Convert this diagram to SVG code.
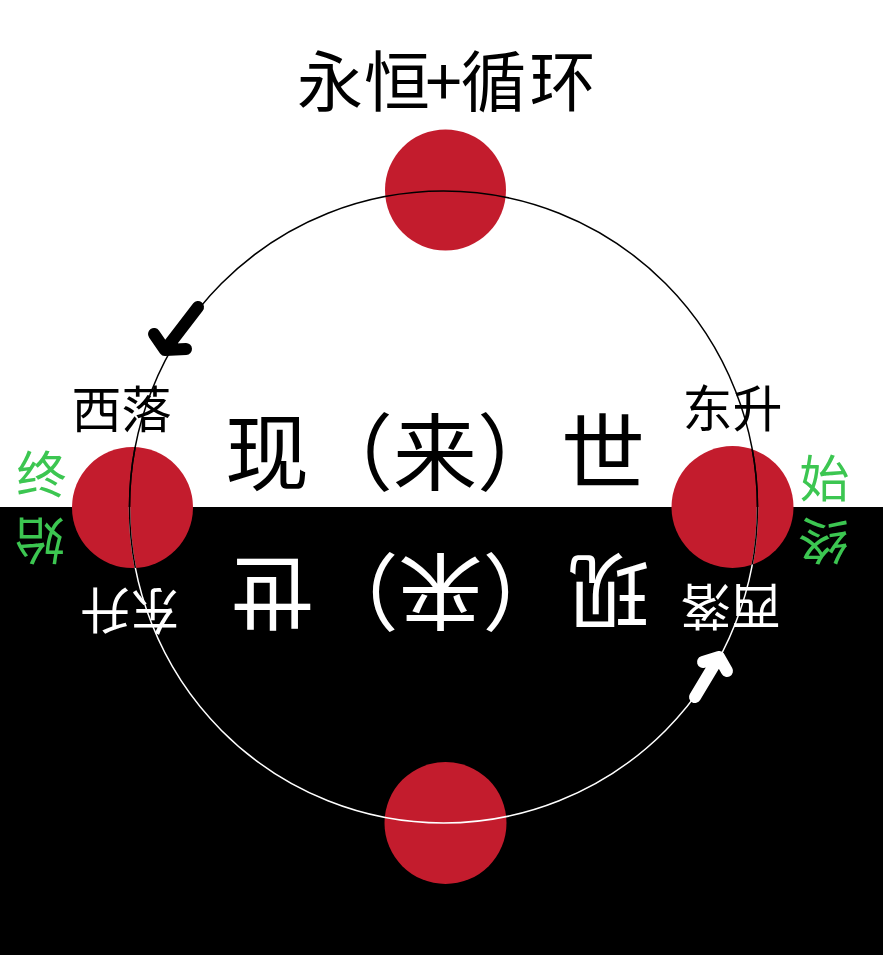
<svg xmlns="http://www.w3.org/2000/svg" width="883" height="955" viewBox="0 0 883 955">
<style>
.cjk{font-family:"Noto Sans CJK SC","Noto Sans",sans-serif;text-anchor:middle}
.sun{fill:#c31c2d}
.green{fill:#3cc651}
.arrow{fill:none;stroke-width:12;stroke-linecap:round;stroke-linejoin:round}
</style>
<defs>
<clipPath id="sideSuns"><circle cx="132.5" cy="507.5" r="60.5"/><circle cx="732.5" cy="507" r="61"/></clipPath>
</defs>
<rect x="0" y="0" width="883" height="955" fill="#ffffff"/>
<rect x="0" y="507" width="883" height="448" fill="#000000"/>
<text class="cjk" font-size="66" fill="#000"><tspan x="330 397 443.5 493.5 562.5" y="106">永恒+循环</tspan></text>
<g id="sun-top"><circle class="sun" cx="445.5" cy="190" r="60.5"/></g>
<g id="sun-bottom"><circle class="sun" cx="445.5" cy="823" r="61"/></g>
<g id="sun-left"><circle class="sun" cx="132.5" cy="507.5" r="60.5"/></g>
<g id="sun-right"><circle class="sun" cx="732.5" cy="507" r="61"/></g>
<g id="connectors">
<path d="M129.5 507 A314 316 0 0 1 757.5 507" fill="none" stroke="#000" stroke-width="1.5"/>
<path d="M757.5 507 A314 316 0 0 1 129.5 507" fill="none" stroke="#fff" stroke-width="1.5"/>
<ellipse cx="443.5" cy="507" rx="314" ry="316" fill="none" stroke="#000" stroke-width="1.5" clip-path="url(#sideSuns)"/>
<path class="arrow" stroke="#000" d="M198 307 L165 350 M154 334 L165 350 L186 349"/>
<path class="arrow" stroke="#fff" d="M695 697 L719 657 M703 662 L719 657 L727 671"/>
</g>
<g id="label-present-world">
<text class="cjk" font-size="84" fill="#000" x="435" y="484">现（来）世</text>
<text class="cjk" font-size="84" fill="#fff" x="435" y="484" transform="rotate(180 437.75 522)">现（来）世</text>
</g>
<g id="label-west-set">
<text class="cjk" font-size="50" fill="#000" x="121.5" y="428">西落</text>
<text class="cjk" font-size="50" fill="#fff" x="731" y="626" transform="rotate(180 731 607)">西落</text>
</g>
<g id="label-east-rise">
<text class="cjk" font-size="50" fill="#000" x="732.5" y="426.5">东升</text>
<text class="cjk" font-size="50" fill="#fff" x="130" y="630" transform="rotate(180 130 611)">东升</text>
</g>
<g id="label-left-end">
<text class="cjk green" font-size="50" x="41.5" y="493">终</text>
<text class="cjk green" font-size="50" x="40" y="559.5" transform="rotate(180 40 540.5)">始</text>
</g>
<g id="label-right-start">
<text class="cjk green" font-size="50" x="824.5" y="497">始</text>
<text class="cjk green" font-size="50" x="823.5" y="559.5" transform="rotate(180 823.5 540.5)">终</text>
</g>
</svg>
